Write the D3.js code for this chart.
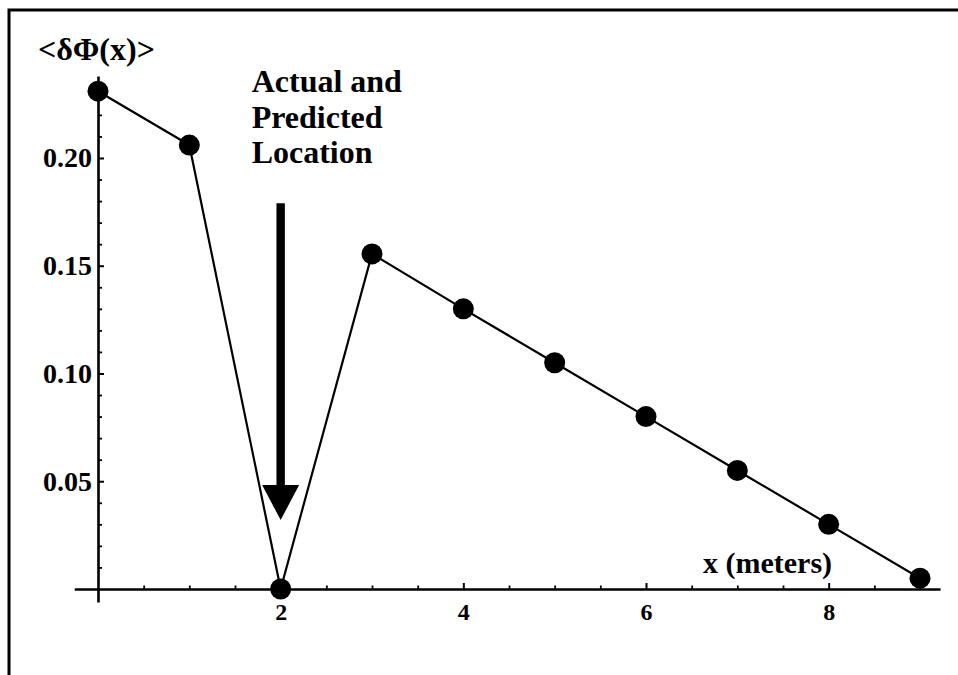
<!DOCTYPE html>
<html>
<head>
<meta charset="utf-8">
<script src="https://cdn.jsdelivr.net/npm/d3@7"></script>
<style>
  html, body { margin: 0; padding: 0; background: #fff; overflow: hidden; }
  svg { display: block; }
  text { font-family: "Liberation Serif", "Times New Roman", Times, serif; font-weight: bold; fill: #000; }
</style>
</head>
<body>
<div id="chart"></div>
<script>
// ---- data ----
const xValues = [0, 1, 2, 3, 4, 5, 6, 7, 8, 9];
const phiValues = [0.231, 0.206, 0.0, 0.1555, 0.130, 0.105, 0.080, 0.055, 0.030, 0.005];
const xTickValues = [2, 4, 6, 8];
const xTickLabels = ["2", "4", "6", "8"];
const xMinorTicks = [0.5, 1, 1.5, 2.5, 3, 3.5, 4.5, 5, 5.5, 6.5, 7, 7.5, 8.5, 9];
const yTickValues = [0.05, 0.10, 0.15, 0.20];
const yTickLabels = ["0.05", "0.10", "0.15", "0.20"];
const yMinorTicks = [0.01,0.02,0.03,0.04,0.06,0.07,0.08,0.09,0.11,0.12,0.13,0.14,0.16,0.17,0.18,0.19,0.21,0.22,0.23];
const annotationLines = ["Actual and", "Predicted", "Location"];
const arrowX = 2, arrowFrom = 0.179, arrowTo = 0.032;
const yAxisTitle = "<δΦ(x)>";
const xAxisTitle = "x (meters)";

const W = 958, H = 675;
const svg = d3.select("#chart").append("svg").attr("width", W).attr("height", H);

// frame (top & left visible, rest cut off)
svg.append("path").attr("d", `M9,${H} V10 H${W}`)
  .attr("fill", "none").attr("stroke", "#000").attr("stroke-width", 3);

// scales
const x = d3.scaleLinear().domain([-0.26, 9.22]).range([74.25, 940.1]);
const y = d3.scaleLinear().domain([-0.006, 0.238]).range([601.9, 76.1]);

// x axis (ticks pointing up)
const gx = svg.append("g").attr("transform", `translate(0,${y(0)})`);
gx.call(d3.axisBottom(x).tickValues(xTickValues).tickFormat((d, i) => xTickLabels[i])
  .tickSize(-6).tickSizeOuter(0).tickPadding(14));
gx.select(".domain").attr("stroke-width", 2.6);
gx.selectAll(".tick line").attr("stroke-width", 2);
gx.selectAll(".tick text").attr("font-size", 24).style("font-family", '"Liberation Serif", serif').style("font-weight", "bold");
const gxm = svg.append("g").attr("transform", `translate(0,${y(0)})`);
gxm.call(d3.axisBottom(x).tickValues(xMinorTicks).tickFormat("").tickSize(-3.5).tickSizeOuter(0));
gxm.select(".domain").remove();
gxm.selectAll(".tick line").attr("stroke-width", 1.8);

// y axis (ticks pointing right, labels left)
const gy = svg.append("g").attr("transform", `translate(${x(0)},0)`);
gy.call(d3.axisLeft(y).tickValues(yTickValues).tickFormat((d, i) => yTickLabels[i])
  .tickSize(-6).tickSizeOuter(0).tickPadding(6));
gy.select(".domain").attr("stroke-width", 2.6);
gy.selectAll(".tick line").attr("stroke-width", 2);
gy.selectAll(".tick text").attr("font-size", 28).style("font-family", '"Liberation Serif", serif').style("font-weight", "bold");
const gym = svg.append("g").attr("transform", `translate(${x(0)},0)`);
gym.call(d3.axisLeft(y).tickValues(yMinorTicks).tickFormat("").tickSize(-4).tickSizeOuter(0));
gym.select(".domain").remove();
gym.selectAll(".tick line").attr("stroke-width", 1.8);

// data line
const pts = xValues.map((v, i) => [v, phiValues[i]]);
svg.append("path").datum(pts)
  .attr("d", d3.line().x(d => x(d[0])).y(d => y(d[1])))
  .attr("fill", "none").attr("stroke", "#000").attr("stroke-width", 2.2);

svg.selectAll("circle.pt").data(pts).join("circle").attr("class", "pt")
  .attr("cx", d => x(d[0])).attr("cy", d => y(d[1])).attr("r", 10.5).attr("fill", "#000");

// arrow
const ax = x(arrowX);
const headLen = 35, headHalf = 18.5, shaftHalf = 4.2;
const tipY = y(arrowTo), topY = y(arrowFrom);
svg.append("path")
  .attr("d", `M${ax - shaftHalf},${topY} L${ax + shaftHalf},${topY} L${ax + shaftHalf},${tipY - headLen}
              L${ax + headHalf},${tipY - headLen} L${ax},${tipY} L${ax - headHalf},${tipY - headLen}
              L${ax - shaftHalf},${tipY - headLen} Z`)
  .attr("fill", "#000");

// annotation
const ann = svg.append("text").attr("font-size", 32);
annotationLines.forEach((t, i) => {
  ann.append("tspan").attr("x", ax - 29).attr("y", 92 + i * 35.5).text(t);
});

// axis titles
svg.append("text").attr("x", x(0) - 60).attr("y", 60).attr("font-size", 32).text(yAxisTitle);
svg.append("text").attr("x", 703).attr("y", 573).attr("font-size", 30).text(xAxisTitle);
</script>
</body>
</html>
